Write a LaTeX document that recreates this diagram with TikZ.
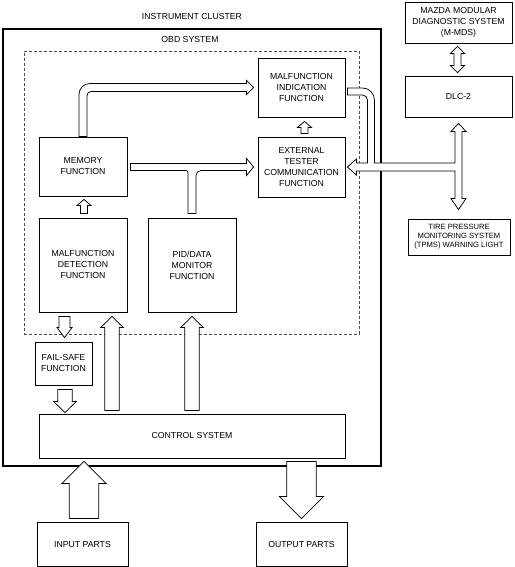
\documentclass[tikz,border=0pt]{standalone}
\usepackage{fontspec}
\setmainfont{Liberation Sans}
\usetikzlibrary{calc}
\newcommand{\boxfont}{\fontsize{8.7}{11}\selectfont}
\newcommand{\smallboxfont}{\fontsize{7.6}{9}\selectfont}

\tikzset{
  box/.style={draw, line width=0.9pt, align=center, font=\boxfont, inner sep=1pt},
  pipe/.style={draw, fill=white, line width=0.75pt, line join=miter},
  fat/.style n args={3}{pipe, to path={let \p1=(\tikztostart), \p2=(\tikztotarget) in
      ($(\p1)!#1!90:(\p2)$) -- ($(\p2)!#3!(\p1)!#1!-90:(\p1)$) -- ($(\p2)!#3!(\p1)!#2!-90:(\p1)$)
      -- (\p2) -- ($(\p2)!#3!(\p1)!#2!90:(\p1)$) -- ($(\p2)!#3!(\p1)!#1!90:(\p1)$)
      -- ($(\p1)!#1!-90:(\p2)$) -- cycle}},
  fatboth/.style n args={3}{pipe, to path={let \p1=(\tikztostart), \p2=(\tikztotarget) in
      (\p1) -- ($(\p1)!#3!(\p2)!#2!90:(\p2)$) -- ($(\p1)!#3!(\p2)!#1!90:(\p2)$)
      -- ($(\p2)!#3!(\p1)!#1!-90:(\p1)$) -- ($(\p2)!#3!(\p1)!#2!-90:(\p1)$) -- (\p2)
      -- ($(\p2)!#3!(\p1)!#2!90:(\p1)$) -- ($(\p2)!#3!(\p1)!#1!90:(\p1)$)
      -- ($(\p1)!#3!(\p2)!#1!-90:(\p2)$) -- ($(\p1)!#3!(\p2)!#2!-90:(\p2)$) -- cycle}}
}

\begin{document}
\begin{tikzpicture}[x=1pt,y=-1pt]
	\useasboundingbox (0,0) rectangle (514,567);
	\node[draw,line width=1.2pt,minimum width=378pt,minimum height=437pt] (cluster) at (192,247.5) {};
	\node[font=\boxfont] (clustername) at (192,17) {INSTRUMENT CLUSTER};
	\node[draw=black!70,dash pattern=on 3pt off 2pt,line width=0.5pt,minimum width=335pt,minimum height=283pt] (obd) at (191.5,192.5) {};
	\node[font=\boxfont] (obdname) at (190,40) {OBD SYSTEM};

	\node[box,minimum width=87pt,minimum height=59pt] (mil) at (301.5,87.5) {MALFUNCTION\\INDICATION\\FUNCTION};
	\node[box,minimum width=87pt,minimum height=60pt] (ext) at (301.5,167) {EXTERNAL\\TESTER\\COMMUNICATION\\FUNCTION};
	\node[box,minimum width=88pt,minimum height=59pt] (mem) at (83,166.5) {MEMORY\\FUNCTION};
	\node[box,minimum width=88pt,minimum height=94pt] (detect) at (83,265) {MALFUNCTION\\DETECTION\\FUNCTION};
	\node[box,minimum width=88pt,minimum height=94pt] (pid) at (192,265) {PID/DATA\\MONITOR\\FUNCTION};
	\node[box,minimum width=57pt,minimum height=43pt] (failsafe) at (63.5,363.5) {FAIL-SAFE\\FUNCTION};
	\node[box,minimum width=306pt,minimum height=44pt] (ctrl) at (192,436) {CONTROL SYSTEM};
	\node[box,minimum width=91pt,minimum height=44pt] (input) at (82.5,544) {INPUT PARTS};
	\node[box,minimum width=91pt,minimum height=44pt] (output) at (301.5,544) {OUTPUT PARTS};
	\node[box,minimum width=107pt,minimum height=41pt] (mmds) at (458.5,22.5) {MAZDA MODULAR\\DIAGNOSTIC SYSTEM\\(M-MDS)};
	\node[box,minimum width=107pt,minimum height=41pt] (dlc) at (458.5,96.5) {DLC-2};
	\node[box,font=\smallboxfont,minimum width=102pt,minimum height=36pt] (tpms) at (459,237) {TIRE PRESSURE\\MONITORING SYSTEM\\(TPMS) WARNING LIGHT};

	\draw[fat={3.5pt}{7pt}{6pt}] ($(ext.north)+(3,-3)$) to ($(mil.south)+(3,4)$);
	\draw[fat={3.5pt}{7pt}{6pt}] ($(detect.north)+(1,-4)$) to ($(mem.south)+(1,3)$);
	\draw[fat={5.5pt}{7.5pt}{10pt}] ($(detect.south)+(-18.5,4)$) to ($(failsafe.north)+(1,-4)$);
	\draw[fat={7.3pt}{11.3pt}{11pt}] ($(failsafe.south)+(1.5,4)$) to ($(failsafe.south |- ctrl.north)+(1.5,-1)$);
	\draw[fat={7.2pt}{11.3pt}{11pt}] ($(detect.south |- ctrl.north)+(29,-3)$) to ($(detect.south)+(29,4)$);
	\draw[fat={7.2pt}{11.3pt}{11pt}] ($(pid.south |- ctrl.north)+(0,-3)$) to ($(pid.south)+(0,4)$);
	\draw[fat={14.7pt}{22pt}{22pt}] ($(input.north)+(1.5,-3)$) to ($(input.north |- ctrl.south)+(1.5,3)$);
	\draw[fat={14.7pt}{22pt}{22pt}] ($(output.north |- ctrl.south)+(0,3)$) to ($(output.north)+(0,-3)$);
	\draw[fatboth={3.5pt}{7pt}{7pt}] ($(mmds.south)+(-1,3)$) to ($(dlc.north)+(-1,-3)$);

	% memory to indication
	\draw[pipe] ($(mem.north)+(-4,0)$) [rounded corners=11pt] -- ($(mem.north |- mil.west)+(-4,-4)$) [sharp corners]
		-- ($(mil.west)+(-11,-4)$) -- ++(0,-3) -- ($(mil.west)+(-4,0)$) -- ++(-7,7) -- ++(0,-3)
		[rounded corners=4pt] -- ($(mem.north |- mil.west)+(4,4)$) [sharp corners] -- ($(mem.north)+(4,0)$) -- cycle;
	% memory and pid/data to tester
	\draw[pipe] ($(mem.east |- ext.west)+(3,-3.5)$) -- ($(ext.west)+(-11,-3.5)$) -- ++(0,-5) -- ($(ext.west)+(-4,0)$)
		-- ++(-7,8.5) -- ++(0,-5) [rounded corners=5pt] -- ($(pid.north |- ext.west)+(4,3.5)$) [sharp corners]
		-- ($(pid.north)+(4,-4)$) -- ++(-8,0) [rounded corners=2pt] -- ($(pid.north |- ext.west)+(-4,3.5)$) [sharp corners]
		-- ($(mem.east |- ext.west)+(3,3.5)$) -- cycle;
	% tester, indication, dlc-2 and tpms
	\draw[pipe] ($(ext.east)+(2,0)$) -- ++(9,-8) -- ++(0,4) -- ($(ext.east)+(22,-4)$)
		[rounded corners=5pt] -- ($(mil.east)+(22,7.5)$) [sharp corners] -- ($(mil.east)+(2,7.5)$) -- ++(0,-7)
		[rounded corners=12pt] -- ($(mil.east)+(29,0.5)$) [sharp corners] -- ($(ext.east)+(29,-4)$)
		-- ($(dlc.south |- ext.east)+(-3.5,-4)$)
		-- ($(dlc.south)+(-3.5,14)$) -- ++(-4,0) -- ++(7.5,-8) -- ++(7.5,8) -- ++(-4,0)
		-- ($(dlc.south |- tpms.north)+(3.5,-20)$) -- ++(4,0) -- ++(-7.5,11) -- ++(-7.5,-11) -- ++(4,0)
		-- ($(dlc.south |- ext.east)+(-3.5,4)$) -- ($(ext.east)+(11,4)$) -- ++(0,4) -- cycle;
\end{tikzpicture}
\end{document}
